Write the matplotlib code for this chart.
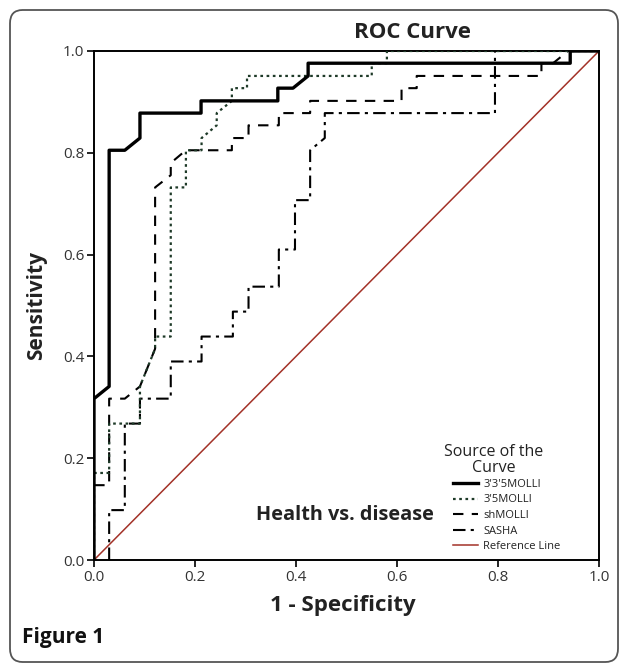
import matplotlib
matplotlib.use('Agg')
import matplotlib.pyplot as plt
from matplotlib.patches import FancyBboxPatch

plt.rcParams['font.family'] = ['Open Sans', 'DejaVu Sans']

# ----------------------------------------------------------------------------------------------------
# データ (1 - Specificity, Sensitivity)
# ----------------------------------------------------------------------------------------------------
x_335molli = [0, 0, 0.030, 0.030, 0.061, 0.091, 0.091, 0.212, 0.212, 0.364, 0.364, 0.394, 0.424, 0.424, 0.943, 0.943, 1.0]
y_335molli = [0, 0.317, 0.341, 0.805, 0.805, 0.829, 0.878, 0.878, 0.902, 0.902, 0.927, 0.927, 0.951, 0.976, 0.976, 1.0, 1.0]

x_35molli = [0, 0, 0.030, 0.030, 0.091, 0.091, 0.121, 0.121, 0.152, 0.152, 0.182, 0.182, 0.213, 0.213, 0.243, 0.243,
             0.273, 0.273, 0.303, 0.303, 0.550, 0.550, 0.580, 0.580, 1.0]
y_35molli = [0, 0.171, 0.171, 0.268, 0.268, 0.341, 0.415, 0.439, 0.439, 0.732, 0.732, 0.805, 0.805, 0.829, 0.854, 0.878,
             0.902, 0.927, 0.927, 0.951, 0.951, 0.976, 0.976, 1.0, 1.0]

x_shmolli = [0, 0, 0.030, 0.030, 0.061, 0.091, 0.121, 0.121, 0.152, 0.152, 0.182, 0.182, 0.273, 0.273, 0.306, 0.306,
             0.366, 0.366, 0.428, 0.428, 0.609, 0.609, 0.639, 0.639, 0.886, 0.886, 0.909, 0.939, 1.0]
y_shmolli = [0, 0.147, 0.147, 0.317, 0.317, 0.341, 0.415, 0.732, 0.756, 0.780, 0.805, 0.805, 0.805, 0.829, 0.829, 0.854,
             0.854, 0.878, 0.878, 0.902, 0.902, 0.927, 0.927, 0.951, 0.951, 0.976, 0.976, 1.0, 1.0]

x_sasha = [0.030, 0.030, 0.061, 0.061, 0.091, 0.091, 0.152, 0.152, 0.213, 0.213, 0.275, 0.275, 0.306, 0.306, 0.366, 0.366,
           0.398, 0.398, 0.428, 0.428, 0.457, 0.457, 0.794, 0.794, 1.0]
y_sasha = [0, 0.098, 0.098, 0.268, 0.268, 0.317, 0.317, 0.390, 0.390, 0.439, 0.439, 0.488, 0.488, 0.537, 0.537, 0.610,
           0.610, 0.707, 0.707, 0.805, 0.829, 0.878, 0.878, 1.0, 1.0]

ref_x = [0, 1]
ref_y = [0, 1]

series_labels = ["3'3'5MOLLI", "3'5MOLLI", 'shMOLLI', 'SASHA', 'Reference Line']
tick_values = [0.0, 0.2, 0.4, 0.6, 0.8, 1.0]

# ----------------------------------------------------------------------------------------------------
# グラフ描画
# ----------------------------------------------------------------------------------------------------
fig = plt.figure(figsize=(6.27, 6.66), dpi=100)
ax = fig.add_axes([94 / 627, 1 - 560 / 666, 505 / 627, 509 / 666])

ax.plot(ref_x, ref_y, color='#a33228', lw=1.1, label=series_labels[4], zorder=1)
ax.plot(x_sasha, y_sasha, color='black', lw=1.5, dashes=(6, 2.5, 1.5, 2.5), label=series_labels[3], zorder=2)
ax.plot(x_shmolli, y_shmolli, color='black', lw=1.5, dashes=(5, 4), label=series_labels[2], zorder=3)
ax.plot(x_35molli, y_35molli, color='#1e3a28', lw=1.6, dashes=(1.2, 1.6), label=series_labels[1], zorder=4)
ax.plot(x_335molli, y_335molli, color='black', lw=2.4, label=series_labels[0], zorder=5)

ax.set_xlim(0, 1)
ax.set_ylim(0, 1)
ax.set_xticks(tick_values)
ax.set_yticks(tick_values)
ax.set_xticklabels(['{:.1f}'.format(v) for v in tick_values])
ax.set_yticklabels(['{:.1f}'.format(v) for v in tick_values])
ax.tick_params(direction='out', length=5, width=1.2, labelsize=11, labelcolor='#333333', pad=2)
for spine in ax.spines.values():
	spine.set_linewidth(1.4)

ax.text(0.497, 0.088, 'Health vs. disease', transform=ax.transAxes, ha='center', va='center',
        fontsize=14.3, fontweight='bold', color='#222222')

# 凡例 (SPSS風の並び順)
handles, labels = ax.get_legend_handles_labels()
order = [4, 3, 2, 1, 0]
leg = ax.legend([handles[i] for i in order], [labels[i] for i in order],
                loc='upper left', bbox_to_anchor=(0.692, 0.179), frameon=False, fontsize=8,
                handlelength=2.2, handletextpad=0.5, labelspacing=0.41, borderpad=0.4)
for t in leg.get_texts():
	t.set_color('#222222')

fig.text(494 / 627, 1 - 460 / 666, 'Source of the\nCurve', ha='center', va='center', fontsize=11.5,
         linespacing=1.05, color='#222222')
fig.text(412 / 627, 1 - 33 / 666, 'ROC Curve', ha='center', va='center', fontsize=16, fontweight='bold', color='#222222')
fig.text(343 / 627, 1 - 605 / 666, '1 - Specificity', ha='center', va='center', fontsize=16, fontweight='bold', color='#222222')
fig.text(37 / 627, 1 - 305 / 666, 'Sensitivity', ha='center', va='center', rotation=90, fontsize=15, fontweight='bold', color='#222222')
fig.text(22 / 627, 1 - 637 / 666, 'Figure 1', ha='left', va='center', fontsize=15, fontweight='bold', color='#111111')

# 外枠 (角丸)
border = FancyBboxPatch((10 / 627, 4 / 666), 608 / 627, 652 / 666, boxstyle='round,pad=0,rounding_size=0.02',
                        transform=fig.transFigure, fill=False, edgecolor='#555555', lw=1.3)
fig.patches.append(border)

plt.savefig('out.png', dpi=100)
plt.close(fig)
